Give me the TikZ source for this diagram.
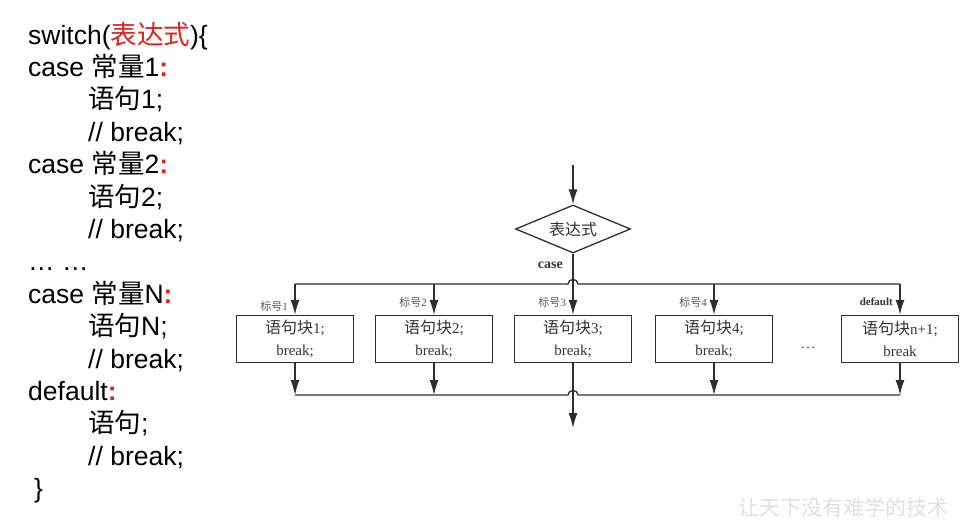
\documentclass[tikz,border=0pt]{standalone}
\usepackage{fontspec}
\setmainfont{Liberation Serif}
\newfontfamily\cjk{Noto Sans CJK SC}
\newfontfamily\codefont{Liberation Sans}
\usetikzlibrary{shapes.geometric,arrows.meta}

\definecolor{codered}{HTML}{E0201C}
\definecolor{linegray}{HTML}{2E2E2E}
\newcommand{\zh}[1]{{\cjk #1}}
\newcommand{\zhbox}[1]{{\cjk\fontsize{16}{22}\selectfont #1}}
\newcommand{\redcol}{\textcolor{codered}{\bfseries :}}

\begin{document}
\begin{tikzpicture}[x=1pt,y=-1pt,
		code/.style={font=\codefont\fontsize{26.5}{30}\selectfont,anchor=base west,inner sep=0pt},
		stmt/.style={draw=linegray,line width=1.3pt,minimum width=117pt,minimum height=47pt,inner sep=0pt,
			align=center,font=\fontsize{15}{22}\selectfont,text=black!80},
		lbl/.style={font=\fontsize{11}{12}\selectfont,text=black!65,anchor=east,inner sep=0pt},
		arr/.style={draw=linegray,line width=1.3pt,-{Latex[length=15pt,width=9pt]}},
		bus/.style={draw=linegray,line width=1.3pt}]
		
		\useasboundingbox (0,0) rectangle (971,525);
		
		% code on the left
		\node[code] (l1) at (28,44) {switch(\zh{\textcolor{codered}{表达式}})\{};
		\node[code] (l2) at (28,76.4) {case \zh{常量}1\redcol};
		\node[code] (l3) at (88,108.8) {\zh{语句}1;};
		\node[code] (l4) at (88,141.2) {// break;};
		\node[code] (l5) at (28,173.6) {case \zh{常量}2\redcol};
		\node[code] (l6) at (88,206) {\zh{语句}2;};
		\node[code] (l7) at (88,238.4) {// break;};
		\node[code] (l8) at (28,270.8) {… …};
		\node[code] (l9) at (28,303.2) {case \zh{常量}N\redcol};
		\node[code] (l10) at (88,335.6) {\zh{语句}N;};
		\node[code] (l11) at (88,368) {// break;};
		\node[code] (l12) at (28,400.4) {default\redcol};
		\node[code] (l13) at (88,432.8) {\zh{语句};};
		\node[code] (l14) at (88,465.2) {// break;};
		\node[code] (l15) at (34,497.6) {\}};
		
		% flow chart
		\coordinate (start) at (573,165);
		\node[diamond,draw=linegray,line width=1.3pt,aspect=2.4,minimum width=115pt,minimum height=48pt,
			inner sep=0pt,font=\cjk\fontsize{16}{18}\selectfont,text=black!80] (expr) at (573,229) {表达式};
		\node[font=\bfseries\fontsize{14}{16}\selectfont,text=black!80,anchor=east,inner sep=0pt] (caselbl) at (563,265) {case};
		
		\node[stmt] (b1) at (295,339) {\zhbox{语句块}1;\\break;};
		\node[stmt] (b2) at (434,339) {\zhbox{语句块}2;\\break;};
		\node[stmt] (b3) at (573,339) {\zhbox{语句块}3;\\break;};
		\node[stmt] (b4) at (714,339) {\zhbox{语句块}4;\\break;};
		\node[stmt] (bn) at (900,339) {\zhbox{语句块}n+1;\\break};
		\node[font=\fontsize{15}{16}\selectfont,text=black!70] (dots) at (808,348) {…};
		
		\coordinate (top) at (0,284);
		\coordinate (low) at (0,395);
		\coordinate (exit) at (573,428);
		
		% upper bus with jump over the middle line
		\draw[bus] (b1.north |- top) -- (568,284) .. controls (568,278) and (578,278) .. (578,284) -- (bn.north |- top);
		\draw[arr] (start) -- (expr.north);
		\draw[arr] (expr.south) -- (b3.north);
		\draw[arr] (b1.north |- top) -- (b1.north);
		\draw[arr] (b2.north |- top) -- (b2.north);
		\draw[arr] (b4.north |- top) -- (b4.north);
		\draw[arr] (bn.north |- top) -- (bn.north);
		
		% labels
		\node[lbl] (n1) at ([xshift=-7pt,yshift=9pt]b1.north) {\zh{标号}1};
		\node[lbl] (n2) at ([xshift=-7pt,yshift=13pt]b2.north) {\zh{标号}2};
		\node[lbl] (n3) at ([xshift=-7pt,yshift=13pt]b3.north) {\zh{标号}3};
		\node[lbl] (n4) at ([xshift=-7pt,yshift=13pt]b4.north) {\zh{标号}4};
		\node[lbl,font=\bfseries\fontsize{11}{12}\selectfont,text=black!80] (nd) at ([xshift=-7pt,yshift=13pt]bn.north) {default};
		
		% lower bus
		\draw[bus] (b1.south |- low) -- (568,395) .. controls (568,389) and (578,389) .. (578,395) -- (bn.south |- low);
		\draw[arr] (b1.south) -- (b1.south |- low);
		\draw[arr] (b2.south) -- (b2.south |- low);
		\draw[arr] (b4.south) -- (b4.south |- low);
		\draw[arr] (bn.south) -- (bn.south |- low);
		\draw[arr] (b3.south) -- (exit);
		
		\node[font=\cjk\fontsize{21}{22}\selectfont,text=black!12,inner sep=0pt] (mark) at (843,507) {让天下没有难学的技术};
\end{tikzpicture}
\end{document}
